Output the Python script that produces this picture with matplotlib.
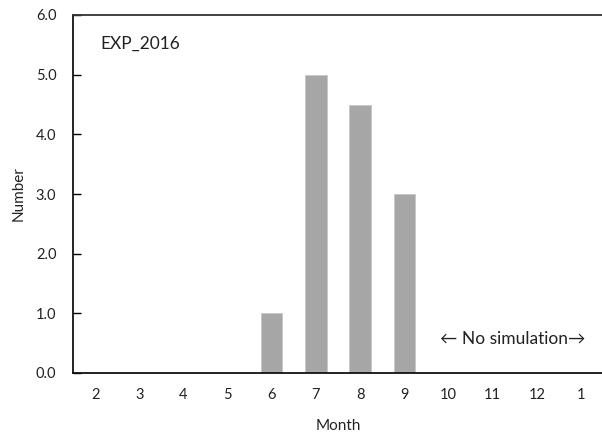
import numpy as np
import matplotlib
matplotlib.use("Agg")
import matplotlib.pyplot as plt

plt.rcParams['font.family'] = ['Lato', 'DejaVu Sans']

months = ['2', '3', '4', '5', '6', '7', '8', '9', '10', '11', '12', '1']
counts = [0, 0, 0, 0, 1.0, 5.0, 4.5, 3.0, 0, 0, 0, 0]
yticks = [0.0, 1.0, 2.0, 3.0, 4.0, 5.0, 6.0]

fig = plt.figure(figsize=(6.02, 4.34), dpi=100)
ax = fig.add_axes([73/602, 1 - 373/434, 530/602, 358/434])

x = np.arange(len(months))
ax.bar(x, counts, width=0.48, color='#a6a6a6', edgecolor='#c8c8c8', linewidth=0.6)

ax.set_xlim(-0.5, len(months) - 0.5)
ax.set_ylim(0, 6)
ax.set_xticks(x)
ax.set_xticklabels(months)
ax.set_yticks(yticks)
ax.set_yticklabels([f"{v:.1f}" for v in yticks])
ax.tick_params(axis='x', length=0, pad=11, labelsize=10.5, labelcolor='#222222')
ax.tick_params(axis='y', direction='in', length=6, width=1, pad=12, labelsize=10.5,
               labelcolor='#222222')

ax.spines['right'].set_visible(False)
for s in ['left', 'bottom']:
    ax.spines[s].set_linewidth(1.3)
    ax.spines[s].set_color('#111111')
ax.spines['top'].set_linewidth(1.3)
ax.spines['top'].set_color('#333333')

ax.set_xlabel('Month', fontsize=11, labelpad=12, color='#222222')
ax.set_ylabel('Number', fontsize=11, labelpad=7, color='#222222')

ax.text(0.051, 0.92, 'EXP_2016', transform=ax.transAxes, fontsize=12.5,
        va='center', ha='left', color='#222222')
ax.text(7.8, 0.57, '\u2190 No simulation\u2192', fontsize=12.5, va='center', ha='left',
        color='#222222')

fig.savefig('out.png', dpi=100)
